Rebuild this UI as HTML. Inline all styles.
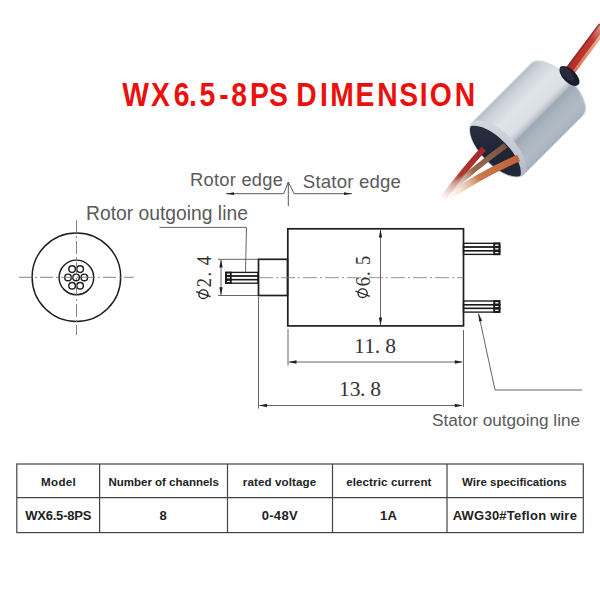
<!DOCTYPE html>
<html><head><meta charset="utf-8">
<style>
html,body{margin:0;padding:0;background:#fff;}
body{width:600px;height:600px;overflow:hidden;position:relative;}
svg{position:absolute;left:0;top:0;}
</style></head>
<body>
<svg width="600" height="600" viewBox="0 0 600 600">
<defs>
  <linearGradient id="metal" gradientUnits="userSpaceOnUse" x1="501" y1="93.5" x2="553" y2="145.5">
    <stop offset="0" stop-color="#b4bfca"/>
    <stop offset="0.12" stop-color="#cbd3db"/>
    <stop offset="0.3" stop-color="#dfe4e9"/>
    <stop offset="0.5" stop-color="#dadfe5"/>
    <stop offset="0.56" stop-color="#c2c9d1"/>
    <stop offset="0.61" stop-color="#9ea8b2"/>
    <stop offset="0.7" stop-color="#aab4be"/>
    <stop offset="0.86" stop-color="#b2bcc6"/>
    <stop offset="1" stop-color="#a6b1bc"/>
  </linearGradient>
  <linearGradient id="wt1" gradientUnits="userSpaceOnUse" x1="568" y1="72" x2="603" y2="26">
    <stop offset="0" stop-color="#b52a2a"/>
    <stop offset="0.7" stop-color="#c23a34"/>
    <stop offset="1" stop-color="#e2a098"/>
  </linearGradient>
  <linearGradient id="wt2" gradientUnits="userSpaceOnUse" x1="572" y1="74" x2="606" y2="29">
    <stop offset="0" stop-color="#d86a48"/>
    <stop offset="1" stop-color="#f0c0a8"/>
  </linearGradient>
  <clipPath id="fclip"><ellipse cx="497.75" cy="148.75" rx="36" ry="16" transform="rotate(45 497.75 148.75)"/></clipPath>
  <linearGradient id="rim" gradientUnits="userSpaceOnUse" x1="472" y1="123" x2="523" y2="174">
    <stop offset="0" stop-color="#d6dce2"/>
    <stop offset="0.5" stop-color="#c4cbd2"/>
    <stop offset="1" stop-color="#a9b3bd"/>
  </linearGradient>
  <linearGradient id="face" gradientUnits="userSpaceOnUse" x1="475" y1="127" x2="522" y2="174">
    <stop offset="0" stop-color="#2a3142"/>
    <stop offset="0.5" stop-color="#1e2434"/>
    <stop offset="1" stop-color="#252b3b"/>
  </linearGradient>
  <linearGradient id="wr" gradientUnits="userSpaceOnUse" x1="483" y1="149" x2="442" y2="199">
    <stop offset="0" stop-color="#a52628"/>
    <stop offset="0.55" stop-color="#b23a34"/>
    <stop offset="1" stop-color="#f2e2dc" stop-opacity="0.2"/>
  </linearGradient>
  <linearGradient id="wb" gradientUnits="userSpaceOnUse" x1="505" y1="145" x2="446" y2="192">
    <stop offset="0" stop-color="#7a5444"/>
    <stop offset="0.55" stop-color="#9a6a50"/>
    <stop offset="1" stop-color="#f0e4dc" stop-opacity="0.2"/>
  </linearGradient>
  <linearGradient id="wo" gradientUnits="userSpaceOnUse" x1="518" y1="158" x2="448" y2="196">
    <stop offset="0" stop-color="#c2603a"/>
    <stop offset="0.55" stop-color="#c97a4c"/>
    <stop offset="1" stop-color="#f6e8de" stop-opacity="0.15"/>
  </linearGradient>
</defs>

<!-- ===== Title ===== -->
<g font-family="Liberation Sans" font-weight="bold" font-size="32.5" fill="#ec100c" text-anchor="middle" transform="scale(0.87 1)">
  <g transform="translate(0 106.2)"><text x="155.92">W</text><text x="184.31">X</text><text x="208.85">6</text><text x="221.84">.</text><text x="238.33">5</text><text x="257.47">-</text><text x="274.71">8</text><text x="298.28">P</text><text x="319.94">S</text><text x="352.13">D</text><text x="372.30">I</text><text x="393.10">M</text><text x="419.54">E</text><text x="445.23">N</text><text x="469.71">S</text><text x="486.95">I</text><text x="506.49">O</text><text x="534.48">N</text></g>
</g>

<!-- ===== Photo ===== -->
<g id="photo">
  <!-- top wires -->
  <path d="M568.5 72 L603 26" stroke="url(#wt1)" stroke-width="9" fill="none"/>
  <path d="M572 74.5 L606 29" stroke="url(#wt2)" stroke-width="3" fill="none"/>
  <path d="M565.5 69.5 L599.5 24" stroke="#8a2522" stroke-width="1.6" fill="none" opacity="0.8"/>
  <!-- body -->
  <path d="M470.5 124 L531.5 63 A36.8 16.5 45 0 1 583.5 115 L525 173.5 Z" fill="url(#metal)"/>
  <path d="M531.5 63 A36.8 16.5 45 0 1 583.5 115" stroke="#d6d8db" stroke-width="1.2" fill="none"/>
  <!-- grommet -->
  <ellipse cx="569.5" cy="76" rx="12.5" ry="6.5" transform="rotate(45 569.5 76)" fill="#1a1e2a"/>
  <ellipse cx="567" cy="73.5" rx="9.5" ry="4" transform="rotate(45 567 73.5)" fill="#262c3c"/>
  <!-- front face -->
  <ellipse cx="497.75" cy="148.75" rx="36.8" ry="16.8" transform="rotate(45 497.75 148.75)" fill="url(#rim)"/>
  <g clip-path="url(#fclip)">
    <ellipse cx="493" cy="153.5" rx="36" ry="16" transform="rotate(45 493 153.5)" fill="url(#face)"/>
  </g>
  <!-- lower wires -->
  <path d="M483.7 148.8 Q466 168 443 198" stroke="url(#wr)" stroke-width="6" fill="none"/>
  <path d="M505.7 145.2 Q472 170 446 194" stroke="url(#wb)" stroke-width="5.5" fill="none"/>
  <path d="M518.6 158 Q480 175 448 197" stroke="url(#wo)" stroke-width="7" fill="none"/>
</g>

<!-- ===== Labels ===== -->
<g font-family="Liberation Sans" fill="#5a5a5a">
  <text x="190" y="186" font-size="18.3" letter-spacing="0.27">Rotor edge</text>
  <text x="302.8" y="188.3" font-size="18.6" letter-spacing="0.2">Stator edge</text>
  <text x="86" y="220" font-size="19.3">Rotor outgoing line</text>
  <text x="432" y="426" font-size="17.2">Stator outgoing line</text>
</g>

<!-- edge marker -->
<g stroke="#555" stroke-width="1" fill="none">
  <path d="M226 193.7 L283.7 193.7 L288.3 182 L294.2 193.7 L352 193.7"/>
  <path d="M288.3 182 L288.3 206"/>
</g>
<path d="M226 193.7 l8 -1.4 v2.8 z M352 193.7 l-8 -1.4 v2.8 z" fill="#222"/>

<!-- ===== End view ===== -->
<g stroke="#1e1e1e" stroke-width="1.45" fill="none">
  <circle cx="76.4" cy="277.2" r="44.3"/>
  <circle cx="76.4" cy="277.4" r="17.3"/>
  <circle cx="72.1" cy="269.1" r="3.3"/>
  <circle cx="80.1" cy="269.1" r="3.3"/>
  <circle cx="68" cy="277.4" r="3.3"/>
  <circle cx="84.3" cy="277.4" r="3.3"/>
  <circle cx="76.1" cy="277.4" r="3.3"/>
  <circle cx="72.1" cy="285.7" r="3.3"/>
  <circle cx="80.1" cy="285.7" r="3.3"/>
</g>
<g stroke="#777" stroke-width="0.9" fill="none" stroke-dasharray="13 3 2 3">
  <path d="M19 277.3 H134"/>
  <path d="M76.5 220 V335"/>
</g>

<!-- ===== Side view ===== -->
<g stroke="#1e1e1e" stroke-width="1.7" fill="none">
  <rect x="287.8" y="228.8" width="175.7" height="97.1"/>
  <rect x="258.5" y="259.3" width="29" height="36.2"/>
</g>
<!-- rotor wires -->
<g stroke="#1a1a1a" stroke-width="1.35" fill="none">
  <rect x="225.8" y="272.4" width="32.2" height="3.6"/>
  <rect x="225.8" y="276" width="32.2" height="3.6"/>
  <rect x="225.8" y="279.6" width="32.2" height="3.6"/>
</g>
<g stroke="#1a1a1a" stroke-width="1.8" fill="none"><rect x="226" y="272.6" width="4.8" height="3.2"/><rect x="226" y="276.2" width="4.8" height="3.2"/><rect x="226" y="279.8" width="4.8" height="3.2"/></g>
<!-- stator wires -->
<g stroke="#1a1a1a" stroke-width="1.35" fill="none">
  <rect x="463.5" y="243.3" width="36" height="3.7"/>
  <rect x="463.5" y="247" width="36" height="3.7"/>
  <rect x="463.5" y="250.7" width="36" height="3.7"/>
  
  <rect x="463.5" y="301" width="36" height="3.7"/>
  <rect x="463.5" y="304.7" width="36" height="3.7"/>
  <rect x="463.5" y="308.4" width="36" height="3.7"/>
  
</g>
<g stroke="#1a1a1a" stroke-width="1.9" fill="none"><rect x="494.2" y="243.5" width="5.3" height="3.3"/><rect x="494.2" y="247.2" width="5.3" height="3.3"/><rect x="494.2" y="250.9" width="5.3" height="3.3"/><rect x="494.2" y="301.2" width="5.3" height="3.3"/><rect x="494.2" y="304.9" width="5.3" height="3.3"/><rect x="494.2" y="308.6" width="5.3" height="3.3"/></g>
<!-- centerline side -->
<g stroke="#777" stroke-width="0.8" fill="none" stroke-dasharray="14 3 2 3">
  <path d="M259 277.7 H463"/>
</g>

<!-- dimension thin lines -->
<g stroke="#555" stroke-width="0.9" fill="none">
  <!-- phi 2.4 -->
  <path d="M218 259.3 H258 M218 295.5 H258 M221 260 V295"/>
  <!-- phi 6.5 -->
  <path d="M380.5 230 V325"/>
  <!-- extension lines -->
  <path d="M258.5 297 V408.5 M288 329 V365.5 M463.5 330 V407"/>
  <!-- 11.8 -->
  <path d="M289 362 H462"/>
  <!-- 13.8 -->
  <path d="M259.5 405.5 H462"/>
  <!-- rotor outgoing leader -->
  <path d="M159.5 227.4 H246.5 L245.5 272"/>
  <!-- stator outgoing leader -->
  <path d="M478.5 313.5 L495 390 H582"/>
</g>
<g fill="#222">
  <path d="M221 259.6 l-1.7 8 h3.4 z M221 295.2 l-1.7 -8 h3.4 z"/>
  <path d="M380.5 229.6 l-1.7 8 h3.4 z M380.5 325.4 l-1.7 -8 h3.4 z"/>
  <path d="M288.5 362 l8 -1.7 v3.4 z M462.8 362 l-8 -1.7 v3.4 z"/>
  <path d="M259 405.5 l8 -1.7 v3.4 z M462.8 405.5 l-8 -1.7 v3.4 z"/>
  <path d="M478.5 313.5 l0.6 8 l3 -0.7 z"/>
</g>

<!-- dimension texts -->
<g font-family="Liberation Serif" fill="#333">
  <g font-size="21.5" text-anchor="middle">
    <text x="359.35" y="352.8">1</text><text x="369.65" y="352.8">1</text><text x="377.35" y="352.8">.</text><text x="390.65" y="352.8">8</text>
    <text x="344.35" y="396.2">1</text><text x="355" y="396.2">3</text><text x="362.65" y="396.2">.</text><text x="375.55" y="396.2">8</text>
  </g>
  <g transform="translate(210.8 0) rotate(-90) scale(0.88 1)" font-size="21" text-anchor="middle">
    <text x="-321.25">2</text><text x="-311.59">.</text><text x="-296.31">4</text>
  </g>
  <g transform="translate(370.2 0) rotate(-90) scale(0.88 1)" font-size="21" text-anchor="middle">
    <text x="-319.94">6</text><text x="-310.91">.</text><text x="-295.85">5</text>
  </g>
</g>

<g stroke="#222" stroke-width="1.3" fill="none">
  <ellipse cx="203.4" cy="294.2" rx="4.6" ry="4.3"/>
  <path d="M196.2 291.6 L210.6 296.6"/>
  <ellipse cx="362.6" cy="293.2" rx="4.6" ry="4.3"/>
  <path d="M355.4 291 L369.8 296.4"/>
</g>

<!-- ===== Table ===== -->
<g stroke="#444" stroke-width="1.2" fill="none">
  <rect x="16.8" y="464" width="566.5" height="68.6"/>
  <path d="M16.8 497.6 H583.3 M99.6 464 V532.6 M227.5 464 V532.6 M332.5 464 V532.6 M447 464 V532.6"/>
</g>
<g font-family="Liberation Sans" font-weight="bold" fill="#222" text-anchor="middle">
  <text x="58.6" y="485.5" font-size="11.6" letter-spacing="0.3">Model</text>
  <text x="163.7" y="485.5" font-size="11.5">Number of channels</text>
  <text x="279.5" y="485.5" font-size="11.6" letter-spacing="0.1">rated voltage</text>
  <text x="388.85" y="485.5" font-size="11.6" letter-spacing="0.1">electric current</text>
  <text x="514.35" y="485.5" font-size="11.5">Wire specifications</text>
  <text x="58.2" y="520.2" font-size="13" letter-spacing="-0.2">WX6.5-8PS</text>
  <text x="163" y="520.2" font-size="13">8</text>
  <text x="279.8" y="520.2" font-size="13" letter-spacing="0.3">0-48V</text>
  <text x="388.5" y="520.2" font-size="13" letter-spacing="0.2">1A</text>
  <text x="514.9" y="520.2" font-size="13" letter-spacing="0.24">AWG30#Teflon wire</text>
</g>
</svg>
</body></html>
